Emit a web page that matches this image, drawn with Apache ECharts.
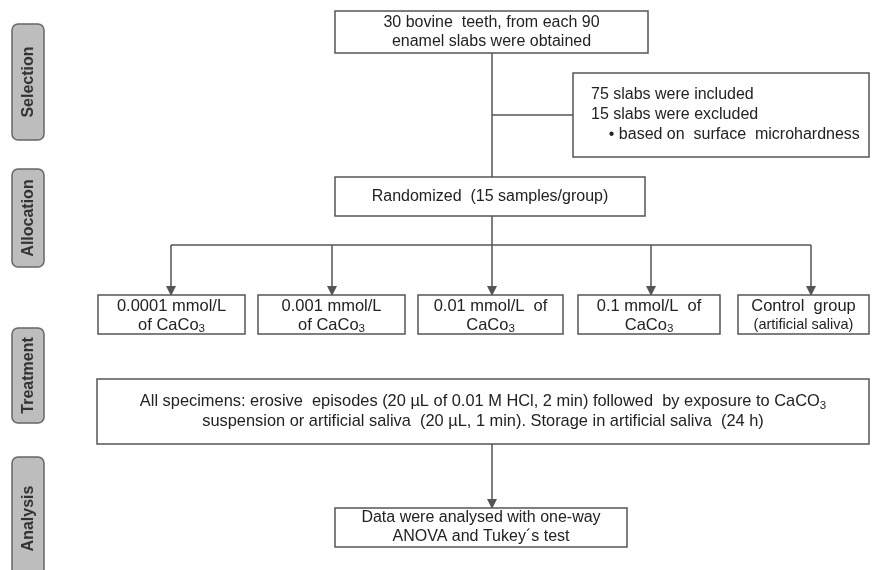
<!DOCTYPE html>
<html lang="en">
<head>
<meta charset="UTF-8">
<title>Study flow diagram</title>
<style>html,body{margin:0;padding:0;background:#fff;}</style>
</head>
<body>
<div id="main" style="width:872px;height:570px;"></div>
<script src="https://cdn.jsdelivr.net/npm/echarts@6/dist/echarts.min.js"></script>
<script>
// ---- texts ----
var phases = ['Selection', 'Allocation', 'Treatment', 'Analysis'];
var startText = '30 bovine  teeth, from each 90\nenamel slabs were obtained';
var exclText = '75 slabs were included\n15 slabs were excluded\n    \u2022 based on  surface  microhardness';
var randText = 'Randomized  (15 samples/group)';
var groups = [
    '0.0001 mmol/L\nof CaCo{sub|3}',
    '0.001 mmol/L\nof CaCo{sub|3}',
    '0.01 mmol/L  of\nCaCo{sub|3}',
    '0.1 mmol/L  of\nCaCo{sub|3}',
    'Control  group\n{sm|(artificial saliva)}'
];
var treatText = 'All specimens: erosive  episodes (20 \u00b5L of 0.01 M HCl, 2 min) followed  by exposure to CaCO{sub|3}\nsuspension or artificial saliva  (20 \u00b5L, 1 min). Storage in artificial saliva  (24 h)';
var analysisText = 'Data were analysed with one-way\nANOVA and Tukey\u00b4s test';

// ---- layout, in units of the hidden 872 x 570 axes ----
var phaseRects = [[12, 24, 44, 140], [12, 169, 44, 267], [12, 328, 44, 423], [12, 457, 44, 580]];
var startRect = [335, 11, 648, 53];
var exclRect = [573, 73, 869, 157];
var randRect = [335, 177, 645, 216];
var groupRects = [[98, 295, 245, 334], [258, 295, 405, 334], [418, 295, 563, 334], [578, 295, 720, 334], [738, 295, 869, 334]];
var treatRect = [97, 379, 869, 444];
var analysisRect = [335, 508, 627, 547];
var branchX = [171, 332, 492, 651, 811];
var trunkX = 492, branchY = 245;

var FONT = '"Liberation Sans", Arial, sans-serif';
var LINE = '#555';

var nodes = [];
phases.forEach(function (p, i) { nodes.push({ text: p, rect: phaseRects[i], kind: 'phase' }); });
nodes.push({ text: startText, rect: startRect, kind: 'box' });
nodes.push({ text: exclText, rect: exclRect, kind: 'left' });
nodes.push({ text: randText, rect: randRect, kind: 'box' });
groups.forEach(function (g, i) { nodes.push({ text: g, rect: groupRects[i], kind: 'group' }); });
nodes.push({ text: treatText, rect: treatRect, kind: 'treat' });
nodes.push({ text: analysisText, rect: analysisRect, kind: 'box' });

var plainLines = [
    { coords: [[trunkX, startRect[3]], [trunkX, randRect[1]]] },
    { coords: [[trunkX, 115], [exclRect[0], 115]] },
    { coords: [[branchX[0], branchY], [branchX[4], branchY]] },
    { coords: [[trunkX, randRect[3]], [trunkX, branchY]] }
];
var arrowLines = branchX.map(function (x) {
    return { coords: [[x, branchY], [x, groupRects[0][1] - 4]] };
});
arrowLines.push({ coords: [[trunkX, treatRect[3]], [trunkX, analysisRect[1] - 4]] });

var rich = {
    sub: { fontSize: 11.5, fontFamily: FONT, verticalAlign: 'bottom', padding: [9, 0, 0, 0], fill: '#222' },
    sm: { fontSize: 14.5, fontFamily: FONT, fill: '#222' }
};

var fontSize = { box: 16, group: 16.5, treat: 16.4 };

function renderNode(params, api) {
    var n = nodes[params.dataIndex];
    var p0 = api.coord([n.rect[0], n.rect[1]]);
    var p1 = api.coord([n.rect[2], n.rect[3]]);
    var w = p1[0] - p0[0], h = p1[1] - p0[1];
    var cx = p0[0] + w / 2, cy = p0[1] + h / 2;
    if (n.kind === 'phase') {
        return {
            type: 'group',
            children: [
                { type: 'rect', shape: { x: p0[0], y: p0[1], width: w, height: h, r: 6 },
                  style: { fill: '#bdbdbd', stroke: '#666', lineWidth: 1.5 } },
                { type: 'text', x: cx + 1, y: cy, rotation: Math.PI / 2,
                  style: { text: n.text, align: 'center', verticalAlign: 'middle',
                           font: 'bold 16px ' + FONT, fill: '#333' } }
            ]
        };
    }
    var textEl;
    if (n.kind === 'left') {
        textEl = { type: 'text', x: p0[0] + 18, y: cy,
            style: { text: n.text, align: 'left', verticalAlign: 'middle', font: '16px ' + FONT,
                     lineHeight: 20, fill: '#222' } };
    } else {
        var fs = fontSize[n.kind];
        textEl = { type: 'text', x: cx, y: cy + (n.kind === 'group' ? 1 : 0),
            style: { text: n.text, rich: rich, align: 'center', verticalAlign: 'middle',
                     font: fs + 'px ' + FONT,
                     lineHeight: n.kind === 'treat' ? 20 : 19, fill: '#222' } };
    }
    return {
        type: 'group',
        children: [
            { type: 'rect', shape: { x: p0[0], y: p0[1], width: w, height: h },
              style: { fill: '#fff', stroke: LINE, lineWidth: 1.5 } },
            textEl
        ]
    };
}

var chart = echarts.init(document.getElementById('main'));
chart.setOption({
    animation: false,
    grid: { left: 0, right: 0, top: 0, bottom: 0 },
    xAxis: { type: 'value', min: 0, max: 872, show: false },
    yAxis: { type: 'value', min: 0, max: 570, inverse: true, show: false },
    series: [
        {
            type: 'lines', coordinateSystem: 'cartesian2d', silent: true,
            symbol: ['none', 'none'],
            lineStyle: { color: LINE, width: 1.5, opacity: 1 },
            data: plainLines
        },
        {
            type: 'lines', coordinateSystem: 'cartesian2d', silent: true,
            symbol: ['none', 'triangle'], symbolSize: 10,
            itemStyle: { color: LINE },
            lineStyle: { color: LINE, width: 1.5, opacity: 1 },
            data: arrowLines
        },
        {
            type: 'custom', coordinateSystem: 'cartesian2d', silent: true,
            renderItem: renderNode,
            data: nodes.map(function (n, i) { return [n.rect[0], n.rect[1], i]; })
        }
    ]
});
</script>
</body>
</html>
